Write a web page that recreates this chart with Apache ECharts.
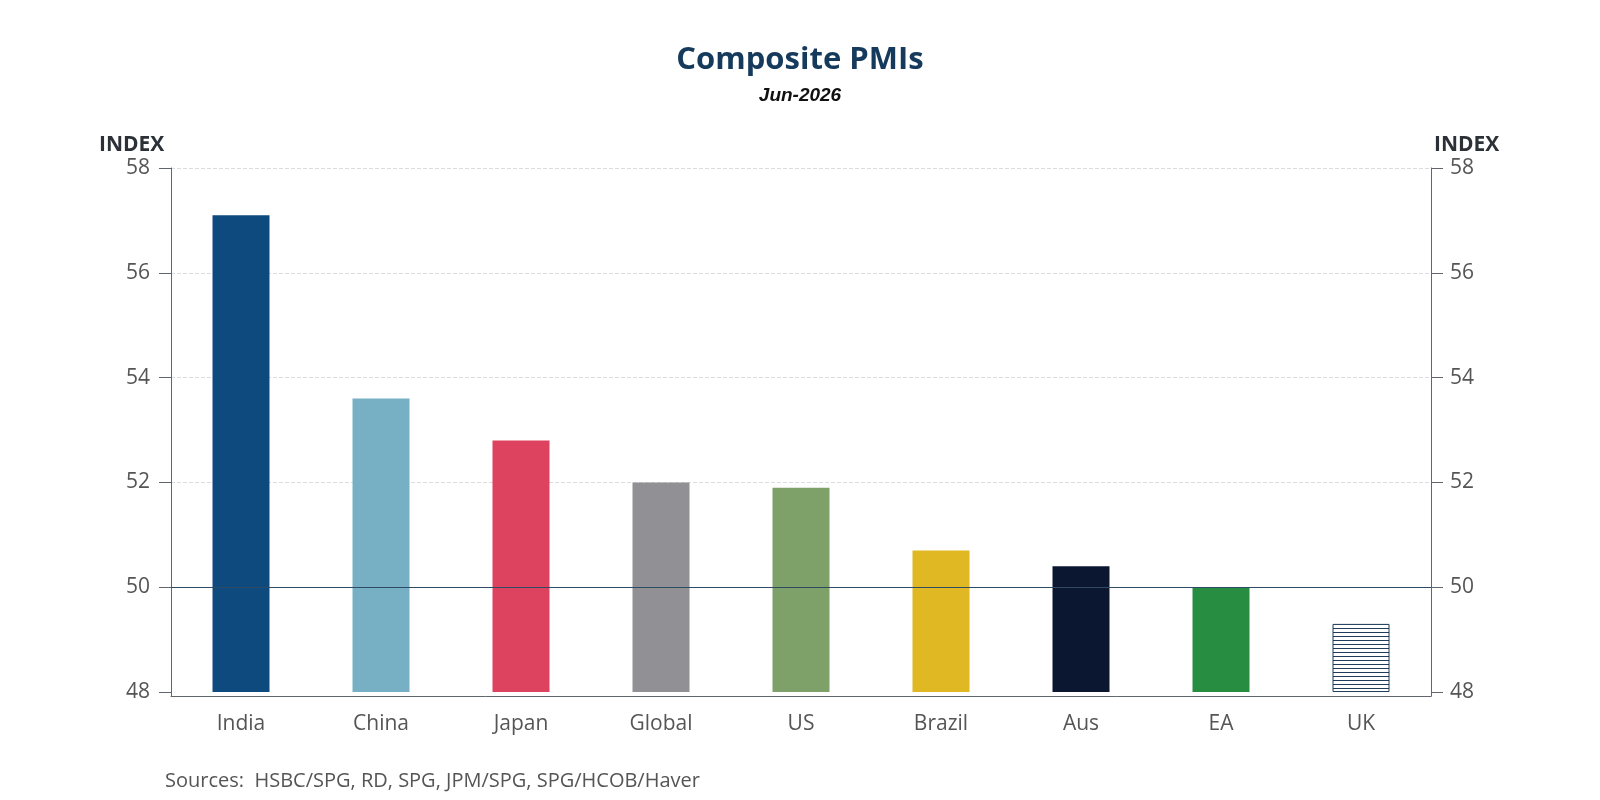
<!DOCTYPE html>
<html>
<head>
<meta charset="utf-8">
<script src="https://cdn.jsdelivr.net/npm/echarts@6/dist/echarts.min.js"></script>
<style>
  html, body { margin: 0; padding: 0; background: #fff; }
  #chart { width: 1600px; height: 800px; }
</style>
</head>
<body>
<div id="chart"></div>
<script>
// Composite PMI readings, Jun-2026
const countries = ['India', 'China', 'Japan', 'Global', 'US', 'Brazil', 'Aus', 'EA', 'UK'];
const pmiValues = [57.1, 53.6, 52.8, 52.0, 51.9, 50.7, 50.4, 50.0, 49.3];
const barColors = ['#0f4a7e', '#77afc5', '#dd425e', '#909095', '#7ea16a', '#dfb823', '#0b1730', '#278d40', 'pattern'];
const yTicks = [48, 50, 52, 54, 56, 58];
const baseLevel = 48;

const chart = echarts.init(document.getElementById('chart'));

// horizontal hatch used for the UK bar
function makeHatch() {
    const c = document.createElement('canvas');
    c.width = 6;
    c.height = 4;
    const ctx = c.getContext('2d');
    ctx.fillStyle = '#ffffff';
    ctx.fillRect(0, 0, 6, 4);
    ctx.fillStyle = '#1d3d5a';
    ctx.fillRect(0, 0, 6, 1);
    return c;
}
const hatch = { image: makeHatch(), repeat: 'repeat' };

const FONT = "'Open Sans', 'Noto Sans', sans-serif";
const labelColor = '#555555';
const axisColor = '#5f6670';

function yAxisCfg(pos) {
    return {
        type: 'value',
        position: pos,
        min: 47.924,
        max: 58,
        splitNumber: 5,
        axisLine: { show: true, lineStyle: { color: axisColor, width: 1 } },
        axisTick: {
            show: true, inside: false, length: 12,
            customValues: yTicks,
            lineStyle: { color: axisColor }
        },
        axisLabel: {
            customValues: yTicks,
            margin: pos === 'left' ? 21 : 19,
            fontSize: 21,
            color: labelColor,
            fontFamily: FONT
        },
        splitLine: {
            show: pos === 'left',
            lineStyle: {
                type: 'dashed',
                color: ['rgba(0,0,0,0)', 'rgba(0,0,0,0)', '#dcdcdc', '#dcdcdc', '#dcdcdc', '#dcdcdc', '#dcdcdc']
            }
        }
    };
}

const option = {
    backgroundColor: '#ffffff',
    animation: false,
    title: [
        {
            text: 'Composite PMIs',
            left: 'center',
            top: 40,
            textStyle: { fontSize: 31, fontWeight: 'bold', color: '#153a5b', fontFamily: FONT }
        },
        {
            text: 'Jun-2026',
            left: 'center',
            top: 81,
            textStyle: { fontSize: 19, fontWeight: 'bold', fontStyle: 'italic', color: '#111', fontFamily: "'Liberation Sans', Arial, sans-serif" }
        },
        {
            text: 'INDEX',
            left: 94,
            top: 130,
            textStyle: { fontSize: 21, fontWeight: 'bold', color: '#2b3137', fontFamily: FONT }
        },
        {
            text: 'INDEX',
            left: 1429,
            top: 130,
            textStyle: { fontSize: 21, fontWeight: 'bold', color: '#2b3137', fontFamily: FONT }
        },
        {
            text: 'Sources:  HSBC/SPG, RD, SPG, JPM/SPG, SPG/HCOB/Haver',
            left: 160,
            top: 766,
            textStyle: { fontSize: 20, fontWeight: 'normal', color: labelColor, fontFamily: FONT }
        }
    ],
    grid: { left: 171, right: 169, top: 168, bottom: 104, containLabel: false },
    xAxis: {
        type: 'category',
        data: countries,
        axisLine: { show: true, lineStyle: { color: axisColor, width: 1 } },
        axisTick: { show: false },
        axisLabel: { margin: 18, fontSize: 21, color: labelColor, fontFamily: FONT },
        splitLine: { show: false }
    },
    yAxis: [yAxisCfg('left'), yAxisCfg('right')],
    series: [
        {
            // invisible base so bars start at 48
            type: 'bar',
            stack: 'pmi',
            barWidth: 57,
            silent: true,
            itemStyle: { color: 'rgba(0,0,0,0)' },
            data: countries.map(() => baseLevel)
        },
        {
            type: 'bar',
            stack: 'pmi',
            barWidth: 57,
            data: pmiValues.map((v, i) => ({
                value: +(v - baseLevel).toFixed(2),
                itemStyle: barColors[i] === 'pattern'
                    ? { color: hatch, borderColor: '#1d3d5a', borderWidth: 1 }
                    : { color: barColors[i] }
            })),
            markLine: {
                silent: true,
                symbol: 'none',
                label: { show: false },
                lineStyle: { color: '#2f4b63', width: 1.2, type: 'solid' },
                data: [{ yAxis: 50 }]
            }
        }
    ]
};

chart.setOption(option);
</script>
</body>
</html>
